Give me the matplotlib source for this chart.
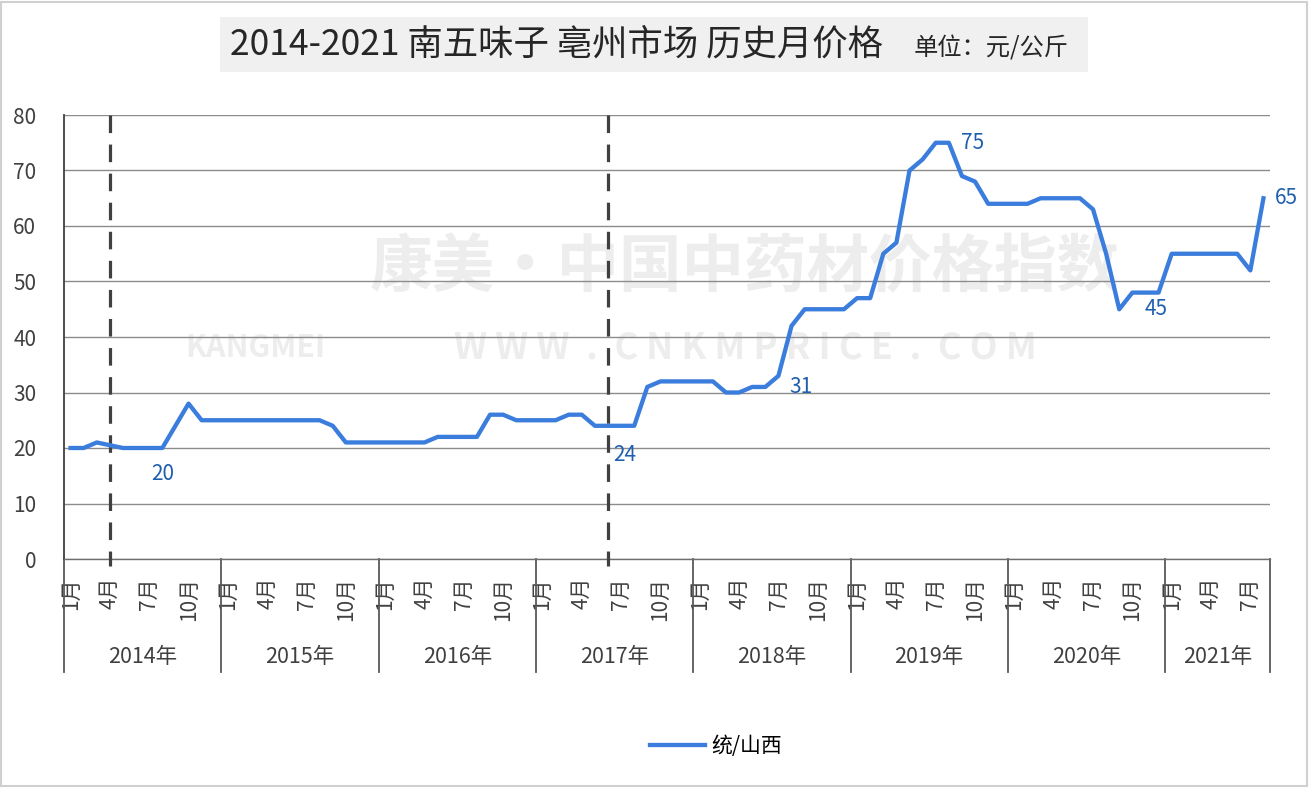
import numpy as np
import matplotlib.pyplot as plt
from matplotlib.patches import Rectangle
from matplotlib.lines import Line2D

plt.rcParams['font.family'] = ['Noto Sans CJK SC', 'DejaVu Sans']

# data (monthly, 2014-01 .. 2021-08)
years = ['2014年', '2015年', '2016年', '2017年', '2018年', '2019年', '2020年', '2021年']
months_per_year = [12, 12, 12, 12, 12, 12, 12, 8]
month_labels = ['1月', '4月', '7月', '10月']
month_label_pos = [0, 3, 6, 9]
prices = [
    20, 20, 21, 20.5, 20, 20, 20, 20, 24, 28, 25, 25,      # 2014
    25, 25, 25, 25, 25, 25, 25, 25, 24, 21, 21, 21,        # 2015
    21, 21, 21, 21, 22, 22, 22, 22, 26, 26, 25, 25,        # 2016
    25, 25, 26, 26, 24, 24, 24, 24, 31, 32, 32, 32,        # 2017
    32, 32, 30, 30, 31, 31, 33, 42, 45, 45, 45, 45,        # 2018
    47, 47, 55, 57, 70, 72, 75, 75, 69, 68, 64, 64,        # 2019
    64, 64, 65, 65, 65, 65, 63, 55, 45, 48, 48, 48,        # 2020
    55, 55, 55, 55, 55, 55, 52, 65,                        # 2021
]
series_name = '统/山西'
label_idx = [7, 42, 53, 67, 80, 91]
dashed_idx = [3, 41]

title_main = '2014-2021 南五味子 亳州市场 历史月价格'
title_unit = '单位：元/公斤'

W, H = 1310, 788
fig = plt.figure(figsize=(W / 100, H / 100), dpi=100)
fig.patch.set_facecolor('white')

ax_left, ax_right, ax_top, ax_bottom = 64, 1270, 115, 559
ax = fig.add_axes([ax_left / W, 1 - ax_bottom / H,
                   (ax_right - ax_left) / W, (ax_bottom - ax_top) / H])
ax.patch.set_visible(False)

# faint watermark behind the axes
wm = '#ededed'
fig.text(745 / W, 1 - 268 / H, '康美·中国中药材价格指数', fontsize=45, fontweight='bold',
         color=wm, ha='center', va='center', zorder=-2)
fig.text(255 / W, 1 - 348 / H, 'KANGMEI', fontsize=22, fontweight='bold',
         color=wm, ha='center', va='center', zorder=-2)
fig.text(745 / W, 1 - 348 / H, 'W W W  .  C N K M P R I C E  .  C O M', fontsize=26,
         fontweight='bold', color=wm, ha='center', va='center', zorder=-2)

x = np.arange(len(prices))
ax.plot(x, prices, color='#3b7ddd', lw=3.1, solid_joinstyle='round', zorder=4)

ax.set_xlim(-0.5, len(prices) - 0.5)
ax.set_ylim(0, 80)
ax.set_yticks(np.arange(0, 81, 10))
ax.yaxis.grid(True, color='#8c8c8c', lw=1.0)
ax.set_axisbelow(True)
for s in ['top', 'right']:
    ax.spines[s].set_visible(False)
ax.spines['left'].set_color('#404040')
ax.spines['left'].set_linewidth(1.3)
ax.spines['bottom'].set_color('#6e6e6e')
ax.spines['bottom'].set_linewidth(1.0)

# month ticks
tick_pos, tick_lab = [], []
start = 0
for n in months_per_year:
    for p, lab in zip(month_label_pos, month_labels):
        if p < n:
            tick_pos.append(start + p)
            tick_lab.append(lab)
    start += n
ax.set_xticks(tick_pos)
ax.set_xticklabels(tick_lab, rotation=90, va='top', ha='center')
ax.tick_params(axis='x', length=0, pad=13, labelsize=15, colors='#404040')
ax.tick_params(axis='y', length=0, pad=20, labelsize=15, colors='#404040')

# year separators and year labels
trans = ax.get_xaxis_transform()
sep_bottom = -(672 - ax_bottom) / (ax_bottom - ax_top)
year_y = -(657 - ax_bottom) / (ax_bottom - ax_top)
start = 0
for yr, n in zip(years, months_per_year):
    ax.plot([start - 0.5, start - 0.5], [0, sep_bottom], transform=trans,
            clip_on=False, color='#595959', lw=1.3)
    ax.text(start + n / 2 - 0.5, year_y, yr, transform=trans, ha='center',
            va='center', fontsize=15.5, color='#404040')
    start += n
ax.plot([start - 0.5, start - 0.5], [0, sep_bottom], transform=trans,
        clip_on=False, color='#595959', lw=1.3)

# dashed markers
for d in dashed_idx:
    ax.plot([d, d], [1.0, -(566 - ax_bottom) / (ax_bottom - ax_top)], transform=trans,
            clip_on=False, color='#404040', lw=2.3, linestyle=(0, (5.5, 3.6)), zorder=3)

# data labels
offsets = [(0, -26), (4, -29), (36, 0), (24, 0), (37, 0), (23, 0)]
for i, off in zip(label_idx, offsets):
    ax.annotate(f'{prices[i]:g}', xy=(i, prices[i]), xytext=off,
                textcoords='offset pixels', ha='center', va='center',
                fontsize=15, color='#1f5fb0', zorder=5)

# legend
handle = Line2D([], [], color='#3b7ddd', lw=3.1)
fig.legend([handle], [series_name], loc='center', bbox_to_anchor=(716 / W, 1 - 746 / H),
           frameon=False, fontsize=15, handlelength=2.6, handletextpad=0.3)

# title block
fig.patches.append(Rectangle((220 / W, 1 - 72 / H), 868 / W, 55 / H,
                             transform=fig.transFigure, facecolor='#f0f0f0',
                             edgecolor='none', zorder=0))
fig.text(230 / W, 1 - 45 / H, title_main, fontsize=25.5, ha='left', va='center',
         color='#262626')
fig.text(914 / W, 1 - 48 / H, title_unit, fontsize=17.5, ha='left', va='center',
         color='#262626')

# outer frame
fig.patches.append(Rectangle((0.001, 0.002), 0.997, 0.996, transform=fig.transFigure,
                             fill=False, edgecolor='#d0d0d0', lw=1.5))

fig.savefig('out.png', dpi=100)
